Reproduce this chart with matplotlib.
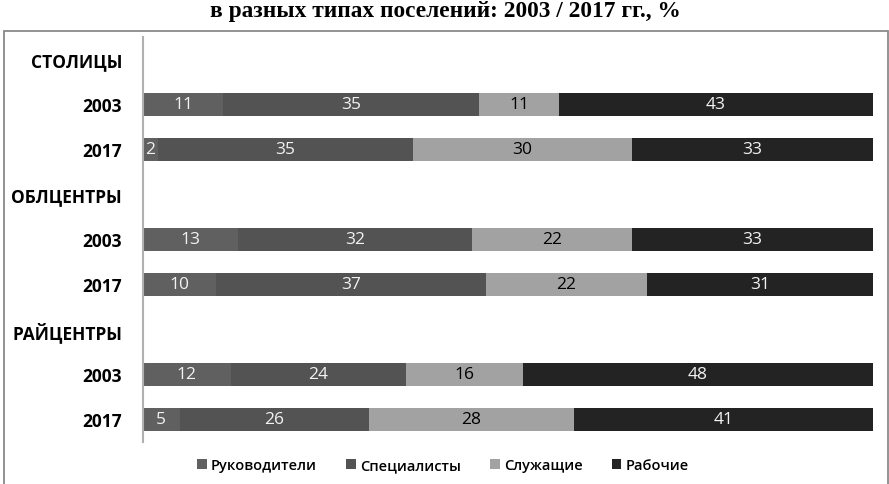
import matplotlib
matplotlib.use("Agg")
import matplotlib.pyplot as plt
from matplotlib.patches import Rectangle, Patch

plt.rcParams['font.family'] = ['Open Sans', 'DejaVu Sans']

row_labels = ["СТОЛИЦЫ", "2003", "2017", "ОБЛЦЕНТРЫ", "2003", "2017", "РАЙЦЕНТРЫ", "2003", "2017"]
series_names = ["Руководители", "Специалисты", "Служащие", "Рабочие"]
rukovoditeli = [None, 11, 2, None, 13, 10, None, 12, 5]
specialisty = [None, 35, 35, None, 32, 37, None, 24, 26]
sluzhashchie = [None, 11, 30, None, 22, 22, None, 16, 28]
rabochie = [None, 43, 33, None, 33, 31, None, 48, 41]
title = "в разных типах поселений: 2003 / 2017 гг., %"

series = [rukovoditeli, specialisty, sluzhashchie, rabochie]
colors = ["#606060", "#535353", "#a2a2a2", "#232323"]
text_colors = ["#f2f2f2", "#f2f2f2", "black", "#f2f2f2"]

W, H = 889, 485
fig = plt.figure(figsize=(W / 100, H / 100), dpi=100)

# frame
fig.add_artist(Rectangle((4 / W, -0.05), 884 / W, 1 - 32 / H + 0.05, transform=fig.transFigure,
                         fill=False, edgecolor="#8a8a8a", linewidth=1.3))

fig.text(445 / W, 1 - 17 / H, title, ha="center", va="baseline",
         fontsize=16.8, fontweight="bold", family=["Liberation Serif", "DejaVu Serif"])

ax_left, ax_right = 143 / W, 873 / W
ax_top, ax_bot = 1 - 38 / H, 1 - 443 / H
ax = fig.add_axes([ax_left, ax_bot, ax_right - ax_left, ax_top - ax_bot])

ys = list(range(len(row_labels)))
lefts = [0] * len(row_labels)
for s, c, tc, name in zip(series, colors, text_colors, series_names):
    for i, v in enumerate(s):
        if v is None:
            continue
        ax.barh(i, v, left=lefts[i], height=23 / 45, color=c, edgecolor="none")
        ax.text(lefts[i] + v / 2, i, str(v), ha="center", va="center", color=tc, fontsize=12.5)
        lefts[i] += v

ax.set_xlim(0, 100)
ax.set_ylim(8 + 0.5, -0.49)
ax.set_yticks(ys)
ax.set_yticklabels(row_labels, fontsize=12.5, fontweight="bold")
ax.tick_params(axis="y", length=0, pad=15)
ax.set_xticks([])
for sp in ["top", "right", "bottom"]:
    ax.spines[sp].set_visible(False)
ax.spines["left"].set_color("#b0b0b0")
ax.spines["left"].set_linewidth(1.5)

handles = [Patch(facecolor=c, edgecolor="none") for c in colors]
fig.legend(handles, series_names, loc="center", bbox_to_anchor=(443 / W, 1 - 466 / H),
           ncol=4, frameon=False, handlelength=0.65, handleheight=0.65,
           handletextpad=0.3, columnspacing=2.0, prop={"family": "Open Sans", "weight": "semibold", "size": 10.5})

fig.savefig("out.png", dpi=100)
